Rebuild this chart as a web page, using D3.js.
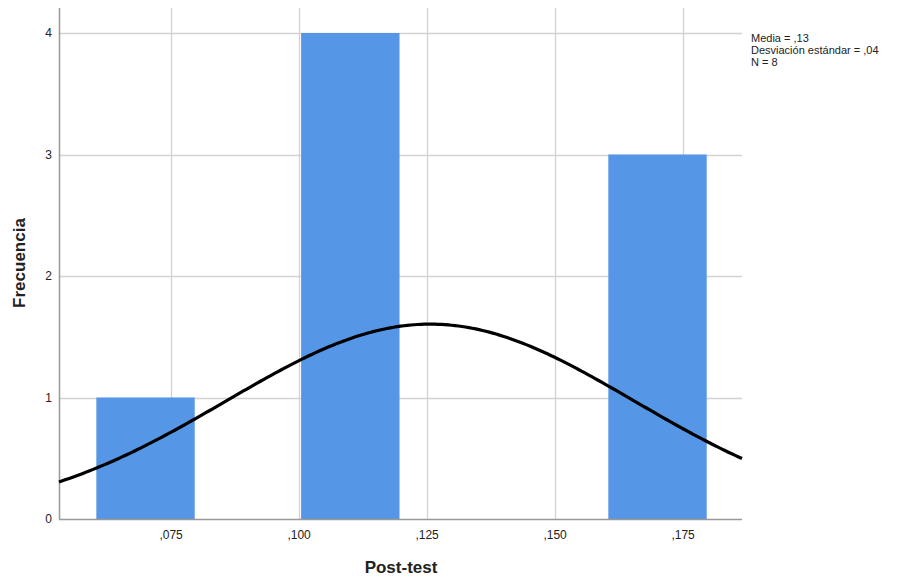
<!DOCTYPE html>
<html>
<head>
<meta charset="utf-8">
<script src="https://cdn.jsdelivr.net/npm/d3@7"></script>
<style>
  body { margin: 0; background: #fff; }
  svg { font-family: Arial, "Liberation Sans", sans-serif; }
</style>
</head>
<body>
<svg width="903" height="579"></svg>
<script>
'use strict';

// histogram bins (lower, upper) and counts
const binStart = [0.06, 0.10, 0.16];
const binEnd = [0.08, 0.12, 0.18];
const counts = [1, 4, 3];
const xTicks = [0.075, 0.100, 0.125, 0.150, 0.175];
const yTicks = [0, 1, 2, 3, 4];
const stats = ["Media = ,13", "Desviación estándar = ,04", "N = 8"];
const mean = 0.1256;
const sd = 0.0398;
const n = 8;
const binWidth = 0.02;

const svg = d3.select("svg");
const margin = {left: 59, right: 161, top: 8, bottom: 60};
const width = 903;
const height = 579;

const x = d3.scaleLinear()
  .domain([0.0531, 0.1865])
  .range([margin.left, width - margin.right]);
const y = d3.scaleLinear()
  .domain([0, 4])
  .range([519, 33]);

const fmt = d => d3.format(".3f")(d).replace("0.", ",");

// grid
svg.append("g")
  .selectAll("line")
  .data(xTicks)
  .join("line")
    .attr("x1", d => Math.round(x(d)) + 0.5)
    .attr("x2", d => Math.round(x(d)) + 0.5)
    .attr("y1", margin.top)
    .attr("y2", y(0))
    .attr("stroke", "#d2d2d2")
    .attr("stroke-width", 1.3);

svg.append("g")
  .selectAll("line")
  .data(yTicks.slice(1))
  .join("line")
    .attr("x1", x.range()[0])
    .attr("x2", x.range()[1])
    .attr("y1", d => Math.round(y(d)) + 0.5)
    .attr("y2", d => Math.round(y(d)) + 0.5)
    .attr("stroke", "#d2d2d2")
    .attr("stroke-width", 1.3);

// bars
svg.append("g")
  .selectAll("rect")
  .data(counts)
  .join("rect")
    .attr("x", (d, i) => x(binStart[i]) + 2)
    .attr("width", (d, i) => x(binEnd[i]) - x(binStart[i]) - 4)
    .attr("y", d => y(d))
    .attr("height", d => y(0) - y(d))
    .attr("fill", "#5596e6");

// axes lines
svg.append("line")
  .attr("x1", x.range()[0] + 0.5).attr("x2", x.range()[0] + 0.5)
  .attr("y1", margin.top).attr("y2", y(0))
  .attr("stroke", "#999").attr("stroke-width", 1.5);
svg.append("line")
  .attr("x1", x.range()[0]).attr("x2", x.range()[1])
  .attr("y1", y(0) + 0.5).attr("y2", y(0) + 0.5)
  .attr("stroke", "#999").attr("stroke-width", 1.5);

// normal curve
const pdf = v => n * binWidth / (sd * Math.sqrt(2 * Math.PI)) *
  Math.exp(-0.5 * Math.pow((v - mean) / sd, 2));
const curvePts = d3.range(0, 201).map(i => {
  const v = x.domain()[0] + (x.domain()[1] - x.domain()[0]) * i / 200;
  return [v, pdf(v)];
});
svg.append("path")
  .datum(curvePts)
  .attr("fill", "none")
  .attr("stroke", "#000")
  .attr("stroke-width", 3.2)
  .attr("d", d3.line().x(d => x(d[0])).y(d => y(d[1])));

// tick labels
svg.append("g")
  .selectAll("text")
  .data(xTicks)
  .join("text")
    .attr("x", d => x(d))
    .attr("y", 539)
    .attr("text-anchor", "middle")
    .attr("font-size", 12)
    .attr("fill", "#222")
    .text(fmt);

svg.append("g")
  .selectAll("text")
  .data(yTicks)
  .join("text")
    .attr("x", 52)
    .attr("y", d => y(d) + 4)
    .attr("text-anchor", "end")
    .attr("font-size", 12)
    .attr("fill", "#222")
    .text(d => d);

// axis titles
svg.append("text")
  .attr("transform", "translate(25,263) rotate(-90)")
  .attr("text-anchor", "middle")
  .attr("font-size", 17)
  .attr("font-weight", "bold")
  .attr("fill", "#222")
  .text("Frecuencia");

svg.append("text")
  .attr("x", 401)
  .attr("y", 573)
  .attr("text-anchor", "middle")
  .attr("font-size", 17)
  .attr("font-weight", "bold")
  .attr("fill", "#222")
  .text("Post-test");

// stats box
svg.append("g")
  .selectAll("text")
  .data(stats)
  .join("text")
    .attr("x", 751)
    .attr("y", (d, i) => 42 + i * 12)
    .attr("font-size", 11)
    .attr("fill", "#222")
    .text(d => d);
</script>
</body>
</html>
